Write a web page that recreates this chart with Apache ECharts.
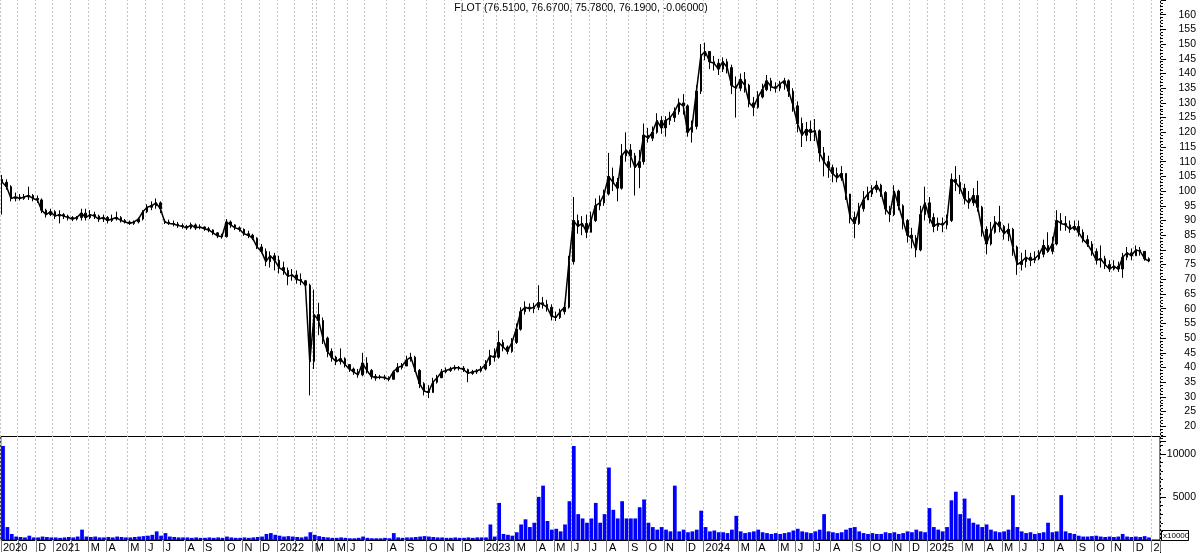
<!DOCTYPE html>
<html>
<head>
<meta charset="utf-8">
<title>FLOT</title>
<script src="https://cdn.jsdelivr.net/npm/echarts@6/dist/echarts.min.js"></script>
<style>
  html, body { margin: 0; padding: 0; background: #fff; }
  #chart { width: 1200px; height: 553px; }
</style>
</head>
<body>
<div id="chart"></div>
<script>
// time axis: one slot per trading week, grouped by month
// (MOEX was shut for most of March 2022, so that month has one week only)
var months = [
  '2020-10', '2020-11', '2020-12',
  '2021-01', '2021-02', '2021-03', '2021-04', '2021-05', '2021-06', '2021-07', '2021-08', '2021-09', '2021-10', '2021-11', '2021-12',
  '2022-01', '2022-02', '2022-03', '2022-04', '2022-05', '2022-06', '2022-07', '2022-08', '2022-09', '2022-10', '2022-11', '2022-12',
  '2023-01', '2023-02', '2023-03', '2023-04', '2023-05', '2023-06', '2023-07', '2023-08', '2023-09', '2023-10', '2023-11', '2023-12',
  '2024-01', '2024-02', '2024-03', '2024-04', '2024-05', '2024-06', '2024-07', '2024-08', '2024-09', '2024-10', '2024-11', '2024-12',
  '2025-01', '2025-02', '2025-03', '2025-04', '2025-05', '2025-06', '2025-07', '2025-08', '2025-09', '2025-10', '2025-11', '2025-12',
  '2026-01'
];
var weeksInMonth = [
  4, 4, 4,
  4, 4, 4, 5, 4, 4, 5, 4, 5, 4, 4, 4,
  4, 4, 1, 4, 3, 4, 5, 4, 5, 4, 4, 5,
  3, 4, 5, 4, 4, 4, 4, 5, 4, 4, 5, 4,
  4, 4, 4, 5, 4, 4, 4, 5, 4, 5, 4, 4,
  4, 4, 5, 4, 4, 4, 4, 5, 4, 4, 5, 4,
  2
];
// label under each month tick ('' = tick only, label hidden like in the original)
var monthLabels = [
  '2020', '', 'D',
  '2021', '', 'M', 'A', 'M', 'J', 'J', 'A', 'S', 'O', 'N', 'D',
  '2022', '', 'M', '', 'M', 'J', 'J', 'A', 'S', 'O', 'N', 'D',
  '2023', '', 'M', 'A', 'M', 'J', 'J', 'A', 'S', 'O', 'N', 'D',
  '2024', '', 'M', 'A', 'M', 'J', 'J', 'A', 'S', 'O', 'N', 'D',
  '2025', '', 'M', 'A', 'M', 'J', 'J', 'A', 'S', 'O', 'N', 'D',
  '2'
];

// weekly OHLC
var priceOpen = [
  104, 103, 101.5, 97.5, 98, 97.5, 98, 98.5, 97.5, 97, 93.5, 92,
  93, 91.5, 92, 91.5, 91, 90.5, 91, 92.5, 91, 92, 91.5, 90.5, 91, 90, 90.5, 91, 90, 89.5, 89, 89.5, 90.5, 93, 94.5, 95, 96,
  89.8, 89.5, 89, 88.8, 88.3, 88, 87.5, 88.5, 87.5, 87.8, 87.2, 86.8, 85.8, 84.8, 84.5, 89.5, 88.5, 87.5, 87, 85.5, 85, 84, 81, 79.5, 76, 78,
  76.5, 74, 73, 71, 71.5, 70, 69.5, 68, 42, 58, 56, 50, 45.5, 43.5, 42, 43, 41, 39.5, 38.5, 37.5, 41.5, 39, 37, 36.5, 36.8,
  36.5, 36, 38.5, 40, 40.5, 42.5, 43.5, 39, 34.5, 32, 31.5, 35, 36.5, 38.5, 39, 39.5, 40, 39.8, 39.3, 38, 38.5, 38.8,
  39.5, 41, 44, 43.5, 48.5, 47, 45.5, 48.5, 53, 59, 60.5, 60, 60.5, 62, 61.5, 60.5, 57.5, 57, 59, 60.5,
  76, 90, 88, 89, 86, 90, 95, 96, 99, 105, 103, 101, 112, 114, 112, 108, 110, 119, 118, 120, 124,
  121.5, 124, 125, 127, 130, 129, 120, 122, 134,
  146, 147.5, 144, 143.5, 141.5, 144, 142, 136, 135, 138, 136, 130, 128.5, 132, 134.5, 137.5, 135.5,
  135, 136.5, 137.5, 134, 129, 123, 119, 121, 120, 120.5, 113, 110, 108, 106, 104.5, 106, 99,
  91, 89, 94, 97, 99, 100.5, 102, 99.5, 94, 92, 100, 95, 90, 85, 84, 80, 92,
  96, 91, 88, 89, 88.5, 90, 104, 103, 101, 97.5, 96, 98.5, 94.5, 87, 82, 86, 89.5, 88, 85.5, 87, 81,
  75, 76, 77.5, 76.5, 77, 78.5, 81.5, 79.5, 82, 90, 89, 88.5, 87, 88, 86, 83.5, 82,
  79.5, 76.5, 77, 75, 73.5, 74.5, 73.5, 77.5, 79, 78, 80, 79.5, 77
];
var priceClose = [
  103, 101.5, 97.5, 98, 97.5, 98, 98.5, 97.5, 97, 93.5, 92, 93,
  91.5, 92, 91.5, 91, 90.5, 91, 92.5, 91, 92, 91.5, 90.5, 91, 90, 90.5, 91, 90, 89.5, 89, 89.5, 90.5, 93, 94.5, 95, 96, 94,
  89.5, 89, 88.8, 88.3, 88, 87.5, 88.5, 87.5, 87.8, 87.2, 86.8, 85.8, 84.8, 84.5, 89.5, 88.5, 87.5, 87, 85.5, 85, 84, 81, 79.5, 76, 78, 76.5,
  74, 73, 71, 71.5, 70, 69.5, 68, 42, 58, 56, 50, 45.5, 43.5, 42, 43, 41, 39.5, 38.5, 37.5, 41.5, 39, 37, 36.5, 36.8, 36.5,
  36, 38.5, 40, 40.5, 42.5, 43.5, 39, 34.5, 32, 31.5, 35, 36.5, 38.5, 39, 39.5, 40, 39.8, 39.3, 38, 38.5, 38.8, 39.5,
  41, 44, 43.5, 48.5, 47, 45.5, 48.5, 53, 59, 60.5, 60, 60.5, 62, 61.5, 60.5, 57.5, 57, 59, 60.5, 76,
  90, 88, 89, 86, 90, 95, 96, 99, 105, 103, 101, 112, 114, 112, 108, 110, 119, 118, 120, 124, 121.5,
  124, 125, 127, 130, 129, 120, 122, 134, 146,
  147.5, 144, 143.5, 141.5, 144, 142, 136, 135, 138, 136, 130, 128.5, 132, 134.5, 137.5, 135.5, 135,
  136.5, 137.5, 134, 129, 123, 119, 121, 120, 120.5, 113, 110, 108, 106, 104.5, 106, 99, 91,
  89, 94, 97, 99, 100.5, 102, 99.5, 94, 92, 100, 95, 90, 85, 84, 80, 92, 96,
  91, 88, 89, 88.5, 90, 104, 103, 101, 97.5, 96, 98.5, 94.5, 87, 82, 86, 89.5, 88, 85.5, 87, 81, 75,
  76, 77.5, 76.5, 77, 78.5, 81.5, 79.5, 82, 90, 89, 88.5, 87, 88, 86, 83.5, 82, 79.5,
  76.5, 77, 75, 73.5, 74.5, 73.5, 77.5, 79, 78, 80, 79.5, 77, 76.19
];
var priceLow = [
  92, 100.5, 96.5, 96.5, 96.8, 97, 97, 96.5, 96, 92.5, 91, 91.5,
  90.5, 89, 90.5, 90, 89.8, 90, 90, 90, 90.5, 90.5, 89.5, 89.5, 89, 89.5, 90, 89.3, 89, 88.5, 88.5, 89, 90, 92.5, 93.5, 94, 92.5,
  88.8, 88.5, 88, 87.5, 87.2, 86.8, 87, 86.8, 87, 86.5, 86, 85, 84, 83.8, 84.2, 87.5, 86.8, 86.2, 84.8, 84, 83.3, 80.3, 78.8, 74.5, 74, 73,
  72, 71.5, 68, 69.5, 68.5, 68, 66.5, 30.5, 39.5, 51, 48, 43.5, 42, 40.8, 41, 40, 38.5, 37.5, 36.5, 37, 38, 36, 35.5, 36, 35.8,
  35.3, 35.8, 38.5, 39.3, 40.5, 42, 38.5, 33, 30.5, 29.6, 31.5, 34.5, 36.5, 38, 38.5, 39, 39, 38.5, 35, 37.5, 37.8, 38.3,
  39, 40.5, 42, 43, 45.5, 44.5, 45, 48, 52.5, 58, 59, 58.5, 59.5, 60, 59, 56, 55.8, 56.5, 58, 60,
  75, 85.5, 85, 84, 86, 89.5, 93.5, 95, 98.5, 100, 96.5, 100.5, 110, 108, 98.5, 101, 109, 116.5, 117, 119.5, 119.5,
  118.5, 122.5, 123.5, 126, 126, 118.5, 116.5, 121, 133,
  144.5, 141.5, 141, 139.5, 140.5, 140, 133, 125, 134, 133.5, 128.5, 125.5, 128, 131.5, 134, 134, 133.5,
  134, 134.5, 132, 127, 120, 115, 117, 117, 117, 110, 105, 104.5, 103, 103, 103.5, 97, 89,
  84, 88.5, 93, 97, 98, 99.5, 98, 92, 89.5, 91.5, 93.5, 87, 82.5, 80.5, 77.5, 79.5, 90,
  89, 86, 86.5, 86, 87, 89.5, 100, 99, 95.5, 94, 95, 93, 84.5, 78.5, 81.5, 85.5, 86, 83.5, 83, 78, 71.5,
  73, 74, 74.5, 75.5, 76.5, 77.5, 79, 78.5, 81.5, 86.5, 86.5, 85.8, 86.5, 84.5, 82.5, 81, 78,
  75, 74, 73.5, 72.5, 73, 72.5, 70.5, 76.5, 76.5, 78, 78, 76.3, 75.78
];
var priceHigh = [
  105.5, 104, 102, 99.5, 99, 99, 101.5, 99, 98.5, 97.5, 94, 94,
  93.5, 93.5, 92.5, 92, 91.5, 91.5, 94, 94, 93.5, 93, 92, 92, 91.5, 92, 93, 91.5, 90.5, 90, 90, 91, 93.5, 95.5, 96.5, 97.5, 96.5,
  90.5, 90.3, 90, 89.5, 89, 88.5, 89.3, 89, 88.7, 88, 87.8, 87, 86, 85.5, 90.5, 90, 88.7, 88, 87.3, 86.5, 85.5, 84.3, 82, 80.5, 79.5, 79,
  78, 76, 74, 73.5, 73, 72, 69.8, 68.5, 66.5, 62, 57, 50.5, 46.5, 44, 46.5, 43.5, 41, 40, 39.5, 45, 43.5, 39.5, 37.8, 37.5, 37.5,
  37, 39, 41.5, 41.5, 44, 45, 44, 39.5, 35, 34, 36.5, 37.5, 39.5, 40, 40.2, 40.8, 40.5, 40.5, 39.6, 39.2, 39.5, 40.5,
  42.5, 46, 46.5, 52.5, 49.5, 47.5, 50, 55, 60.5, 62.5, 61.8, 62, 68, 64, 63, 61.5, 59, 60, 62, 78,
  98, 92, 91.5, 92, 93, 97.5, 98.5, 100.5, 113, 108, 104.5, 116, 120, 116, 113, 114, 123, 121.5, 122, 126.5, 125.5,
  125.5, 127, 128.5, 131.5, 133, 129.5, 124, 136, 150,
  150.5, 147, 146, 145, 145.5, 145, 143, 139, 140, 140.5, 136.5, 132, 134, 136.5, 139.5, 138.5, 137,
  137.5, 138.5, 138, 135, 130.5, 125, 123.5, 124, 124.5, 121, 115, 112, 109, 108, 108.5, 106, 99,
  93, 96, 100, 101.5, 102, 103.5, 102.5, 100, 95, 102, 100.5, 95.5, 90.5, 87.5, 85, 95, 101.5,
  98, 92.5, 91, 91, 92, 106, 108.5, 105.5, 102.5, 100, 101, 103.5, 95, 88, 89.5, 91.5, 95, 88.5, 89, 87.5, 81.5,
  79, 80, 79, 79.5, 80, 83.5, 86, 84.5, 93.5, 92.5, 91.5, 90, 90, 90, 87, 85, 83,
  80.5, 81.5, 78, 76.5, 76.5, 76, 79, 81, 80.5, 81.5, 81, 79.5, 77.5
];
// weekly volume, units of 10000 shares
var volume = [
  10900, 1500, 700, 400, 350, 300, 500, 300, 300, 400, 350, 300,
  300, 250, 300, 350, 300, 400, 1200, 400, 350, 400, 300, 300, 350, 300, 400, 350, 300, 300, 350, 400, 450, 500, 600, 1000, 500,
  800, 400, 350, 300, 300, 300, 250, 300, 250, 250, 300, 250, 300, 250, 400, 300, 250, 250, 300, 250, 300, 350, 400, 700, 800, 600,
  500, 400, 450, 400, 350, 300, 400, 900, 600, 450, 350, 300, 250, 250, 300, 250, 200, 200, 250, 400, 250, 200, 200, 200, 250,
  200, 800, 300, 250, 300, 300, 350, 400, 450, 400, 350, 300, 300, 250, 250, 300, 250, 250, 300, 250, 300, 300,
  300, 1800, 400, 4300, 700, 600, 500, 900, 1800, 2400, 1500, 2000, 5000, 6300, 2200, 1200, 1300, 1000, 1800, 4500,
  10900, 3000, 2500, 2000, 2500, 4300, 2000, 3000, 8400, 3500, 2500, 4500, 2500, 2500, 2500, 3800, 4700, 2000, 1500, 1200, 1500,
  1200, 1000, 6300, 1000, 1200, 900, 1000, 1200, 3400,
  1500, 1000, 1100, 900, 900, 800, 1200, 2800, 1000, 800, 900, 1000, 1200, 900, 800, 700, 800,
  700, 800, 900, 1100, 1300, 1000, 900, 800, 1000, 1200, 3000, 1000, 900, 800, 900, 1200, 1400,
  1500, 1000, 800, 700, 800, 700, 700, 900, 800, 900, 700, 800, 1000, 900, 1200, 1000, 900,
  3700, 1500, 1200, 1000, 1500, 4600, 5600, 3000, 4800, 2500, 2000, 1800, 1500, 1800, 1200, 1000, 900, 1000, 1200, 5200, 1500,
  1000, 800, 900, 700, 800, 900, 2000, 900, 1000, 5200, 1000, 800, 700, 500, 400, 400, 450,
  500, 400, 350, 400, 350, 400, 700, 400, 350, 400, 350, 450, 300
];
var titleText = 'FLOT (76.5100, 76.6700, 75.7800, 76.1900, -0.06000)';

// build week slots and the month-start lookup
var weeks = [];
var monthStartIdx = [];
var labelOf = {};
months.forEach(function (m, i) {
  for (var k = 0; k < weeksInMonth[i]; k++) {
    var key = m + '/' + (k + 1);
    if (k === 0) {
      monthStartIdx.push(weeks.length);
      labelOf[key] = monthLabels[i];
    }
    weeks.push(key);
  }
});

var candles = priceOpen.map(function (o, i) {
  return [o, priceClose[i], priceLow[i], priceHigh[i]];
});

var font = '"Liberation Sans", Arial, sans-serif';

var chart = echarts.init(document.getElementById('chart'));
chart.setOption({
  animation: false,
  backgroundColor: '#fff',
  textStyle: { fontFamily: font },
  grid: [
    { left: 0, right: 40, top: -6.9, height: 447.9 },
    { left: 0, right: 40, top: 436.5, height: 104.5, show: true, borderColor: '#000', borderWidth: 1 }
  ],
  xAxis: [
    {
      // price panel axis, hidden; its ticks pushed down to the bottom axis
      // and drawn upward through both panels as the dashed month lines
      type: 'category', gridIndex: 0, data: weeks, boundaryGap: true,
      position: 'bottom', offset: 100,
      axisLine: { show: false }, axisLabel: { show: false },
      axisTick: { show: true, inside: true, customValues: monthStartIdx, length: 548, lineStyle: { color: '#c4c4c4', type: [2, 2], width: 1 } },
      splitLine: { show: false }
    },
    {
      type: 'category', gridIndex: 1, data: weeks, boundaryGap: true,
      axisLine: { show: true, lineStyle: { color: '#000' } },
      axisTick: { show: true, customValues: monthStartIdx, length: 12, lineStyle: { color: '#7a7a7a' } },
      axisLabel: {
        customValues: monthStartIdx, align: 'left', margin: 2, fontSize: 11, color: '#000', fontFamily: font,
        formatter: function (v) { return labelOf[v] || ''; }
      },
      splitLine: { show: false }
    }
  ],
  yAxis: [
    {
      type: 'value', gridIndex: 0, position: 'right', min: 15, max: 165, interval: 5,
      axisLine: { show: true, lineStyle: { color: '#000' } },
      axisTick: { show: true, length: 6, lineStyle: { color: '#000' } },
      minorTick: { show: true, splitNumber: 5, length: 3, lineStyle: { color: '#000' } },
      axisLabel: {
        align: 'right', margin: 36, fontSize: 10.5, color: '#000', fontFamily: font,
        formatter: function (v) { return (v < 20 || v > 160) ? '' : String(v); }
      },
      splitLine: { show: false }
    },
    {
      type: 'value', gridIndex: 1, position: 'right', min: 0, max: 12000, interval: 5000,
      axisLine: { show: true, lineStyle: { color: '#000' } },
      axisTick: { show: true, length: 6, lineStyle: { color: '#000' } },
      minorTick: { show: true, splitNumber: 5, length: 3, lineStyle: { color: '#000' } },
      axisLabel: {
        align: 'right', margin: 36, fontSize: 10.5, color: '#000', fontFamily: font,
        formatter: function (v) { return (v === 5000 || v === 10000) ? String(v) : ''; }
      },
      splitLine: { show: false }
    }
  ],
  series: [
    {
      // weekly close path keeps the price trace continuous like the daily original
      type: 'line', xAxisIndex: 0, yAxisIndex: 0, data: priceClose,
      symbol: 'none', lineStyle: { color: '#000', width: 1.5 }, z: 2
    },
    {
      type: 'candlestick', xAxisIndex: 0, yAxisIndex: 0, data: candles, barWidth: 2,
      itemStyle: { color: '#000', color0: '#000', borderColor: '#000', borderColor0: '#000', borderWidth: 1 }, z: 3
    },
    {
      type: 'bar', xAxisIndex: 1, yAxisIndex: 1, data: volume, barWidth: '85%',
      itemStyle: { color: '#0000ff' }
    }
  ],
  graphic: [
    {
      type: 'text', x: 581, y: 3,
      style: { text: titleText, font: '10.5px ' + font, fill: '#000', align: 'center', verticalAlign: 'top' }
    },
    {
      type: 'rect', shape: { x: 1161.5, y: 530.5, width: 27, height: 10 },
      style: { fill: '#fff', stroke: '#000', lineWidth: 1 }
    },
    {
      type: 'text', x: 1163, y: 535.5,
      style: { text: 'x10000', font: '8px ' + font, fill: '#000', align: 'left', verticalAlign: 'middle' }
    },
    {
      type: 'line', shape: { x1: 1160.5, y1: 541, x2: 1160.5, y2: 553 },
      style: { stroke: '#000', lineWidth: 1 }
    }
  ]
});
</script>
</body>
</html>
